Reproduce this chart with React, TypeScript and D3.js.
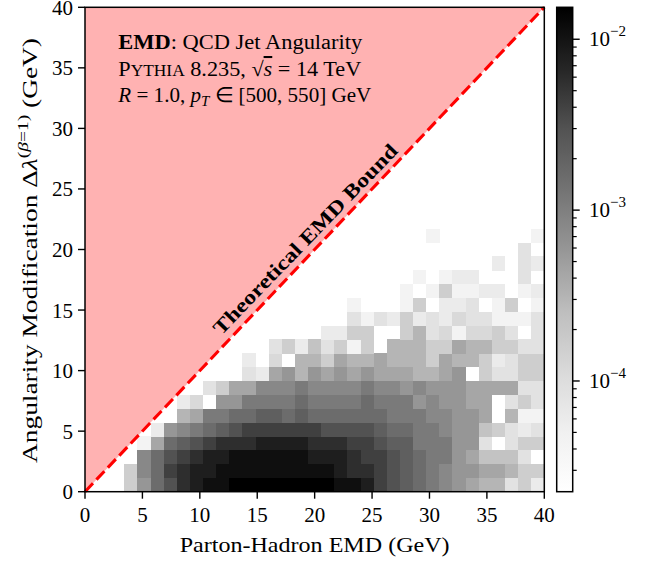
import React from "react";
import * as d3 from "d3";

// ---------- data ----------
const X_TICKS = [0, 5, 10, 15, 20, 25, 30, 35, 40];
const Y_TICKS = [0, 5, 10, 15, 20, 25, 30, 35, 40];
const AXIS_MAX = 40;
const N_BINS = 35;
// colour-bar range (log10 of density)
const LOG_MIN = -4.648;
const LOG_MAX = -1.813;
const CBAR_MAJOR_EXP = [-4, -3, -2];
// matplotlib "Greys" control colours
const GREYS = ["#ffffff", "#f0f0f0", "#d9d9d9", "#bdbdbd", "#969696", "#737373", "#525252", "#252525", "#000000"];
// cell level codes: '.' empty, 'a'..'u' = 0..20 steps along the log colour range
const LEVEL_CHARS = "abcdefghijklmnopqrstu";
const dots = (n: number) => ".".repeat(n);
// rows from bottom (Δλ bin 0) upward, columns = EMD bins 0..34
const HIST_ROWS: string[] = [
  "..." + "gknprstt" + "uuuuuuuu" + "ttsqponmlkjiiegd",
  "..." + "glnqrsst" + "ttttttt" + "tsrrqponmlkkjjigg",
  "...." + "lnpqrss" + "tttttt" + "sssrqqponmmkjhhhe.",
  "...." + "cjnopqrrrssssrrrqqpoommmkke.egg",
  "....." + "dklmnopqqqqqqppppo" + "nnmmlkkhgede",
  ".......ijmmnnoononnnnnnmmmllkkj.icc",
  ".......df.kkmmmmnmmmmnmmmklkkjj.ege",
  ".........egjjlllmllllmllklkkkjjjjee",
  dots(12) + "edjkikjkjkjjjiijk.geegg",
  dots(12) + "d.f.iigjiijiiigjiigdegg",
  dots(14) + "egdhegcg.iiiggjiiggee",
  dots(18) + "ddgg..giefcffge.e",
  dots(20) + "ecedgdedfeeccce",
  dots(20) + "c...cg.dde.cg.c",
  dots(24) + "c.cgccdd.cd",
  dots(25) + "c.cdd...e.",
  dots(31) + "d.ed",
  dots(33) + "e.",
  dots(26) + "c" + dots(7) + "c",
];

// ---------- layout ----------
const W = 652;
const H = 562;
const PL = 85;
const PR = 544.3;
const PT = 7.3;
const PB = 491.7;
const CB_X = 556.7;
const CB_W = 16;
const FONT = "'Liberation Serif', 'Times New Roman', serif";

export default function App() {
  const x = d3.scaleLinear().domain([0, AXIS_MAX]).range([PL, PR]);
  const y = d3.scaleLinear().domain([0, AXIS_MAX]).range([PB, PT]);
  const edges = d3.range(N_BINS + 1).map((k) => (k * AXIS_MAX) / N_BINS);
  const vmin = Math.pow(10, LOG_MIN);
  const vmax = Math.pow(10, LOG_MAX);
  const greys = d3.piecewise(d3.interpolateRgb, GREYS);
  const color = d3.scaleSequentialLog(greys).domain([vmin, vmax]);
  const cbY = d3.scaleLog().domain([vmin, vmax]).range([PB, PT]);

  const cells: { i: number; j: number; v: number }[] = [];
  HIST_ROWS.forEach((row, i) => {
    for (let j = 0; j < row.length; j++) {
      const L = LEVEL_CHARS.indexOf(row[j]);
      if (L < 0) continue;
      const v = Math.pow(10, LOG_MIN + (L / 20) * (LOG_MAX - LOG_MIN));
      cells.push({ i, j, v });
    }
  });

  const minor: number[] = [];
  for (let e = -5; e <= -1; e++) {
    for (let k = 2; k <= 9; k++) {
      const v = k * Math.pow(10, e);
      if (v >= vmin && v <= vmax) minor.push(v);
    }
  }

  const stops = d3.range(0, 1.0001, 0.025);
  const diag = [
    [0, 0],
    [AXIS_MAX, AXIS_MAX],
  ];

  return (
    <svg
      width={W}
      height={H}
      style={{ position: "absolute", left: 0, top: 0, background: "#fff" }}
      fontFamily={FONT}
    >
      <defs>
        <linearGradient id="cbar" x1="0" y1="1" x2="0" y2="0">
          {stops.map((t) => (
            <stop key={t} offset={t} stopColor={greys(t)} />
          ))}
        </linearGradient>
      </defs>
      <rect x={0} y={0} width={W} height={H} fill="#fff" />

      {/* forbidden region */}
      <path
        d={`M${x(0)},${y(0)}L${x(0)},${y(AXIS_MAX)}L${x(AXIS_MAX)},${y(AXIS_MAX)}Z`}
        fill="#ff0000"
        fillOpacity={0.3}
      />

      {/* histogram cells */}
      <g shapeRendering="crispEdges">
        {cells.map((c) => (
          <rect
            key={`${c.i}-${c.j}`}
            x={x(edges[c.j])}
            y={y(edges[c.i + 1])}
            width={x(edges[c.j + 1]) - x(edges[c.j]) + 0.3}
            height={y(edges[c.i]) - y(edges[c.i + 1]) + 0.3}
            fill={color(c.v)}
          />
        ))}
      </g>

      {/* bound line */}
      <line
        x1={x(diag[0][0])}
        y1={y(diag[0][1])}
        x2={x(diag[1][0])}
        y2={y(diag[1][1])}
        stroke="#ff0000"
        strokeWidth={3.1}
        strokeDasharray="11.6,5"
      />
      <text
        transform="translate(305,239) rotate(-46)"
        textAnchor="middle"
        dy="0.35em"
        fontSize={20}
        fontWeight="bold"
        textLength={256}
        lengthAdjust="spacingAndGlyphs"
      >
        Theoretical EMD Bound
      </text>

      {/* text box */}
      <g fontSize={20.5}>
        <text x={118.3} y={49.3} textLength={244} lengthAdjust="spacingAndGlyphs">
          <tspan fontWeight="bold">EMD</tspan>: QCD Jet Angularity
        </text>
        <text x={118.3} y={76} textLength={243} lengthAdjust="spacingAndGlyphs">
          P<tspan fontSize={16}>YTHIA</tspan> 8.235, √
          <tspan fontStyle="italic" textDecoration="overline">s</tspan> = 14 TeV
        </text>
        <text x={118.3} y={101.7} textLength={253} lengthAdjust="spacingAndGlyphs">
          <tspan fontStyle="italic">R</tspan> = 1.0, <tspan fontStyle="italic">p</tspan>
          <tspan fontStyle="italic" fontSize={14.5} dy={4}>T</tspan>
          <tspan dy={-4}> ∈ [500, 550] GeV</tspan>
        </text>
      </g>

      {/* frame */}
      <rect x={PL} y={PT} width={PR - PL} height={PB - PT} fill="none" stroke="#000" strokeWidth={1.5} />

      {/* axes */}
      <g fontSize={21}>
        {X_TICKS.map((t) => (
          <g key={`x${t}`}>
            <line x1={x(t)} x2={x(t)} y1={PB} y2={PB + 7} stroke="#000" strokeWidth={1.4} />
            <text x={x(t)} y={522} textAnchor="middle">
              {t}
            </text>
          </g>
        ))}
        {Y_TICKS.map((t) => (
          <g key={`y${t}`}>
            <line x1={PL - 7} x2={PL} y1={y(t)} y2={y(t)} stroke="#000" strokeWidth={1.4} />
            <text x={73} y={y(t) + 7.5} textAnchor="end">
              {t}
            </text>
          </g>
        ))}
      </g>
      <text x={(PL + PR) / 2} y={552} textAnchor="middle" fontSize={21} textLength={270} lengthAdjust="spacingAndGlyphs">
        Parton-Hadron EMD (GeV)
      </text>
      <text
        transform="translate(37,250.5) rotate(-90)"
        textAnchor="middle"
        fontSize={21}
        textLength={425}
        lengthAdjust="spacingAndGlyphs"
      >
        Angularity Modification Δ<tspan fontStyle="italic">λ</tspan>
        <tspan fontSize={15} dy={-9}>(</tspan>
        <tspan fontSize={15} fontStyle="italic">β</tspan>
        <tspan fontSize={15}>=1)</tspan>
        <tspan dy={9}> (GeV)</tspan>
      </text>

      {/* colour bar */}
      <rect x={CB_X} y={PT} width={CB_W} height={PB - PT} fill="url(#cbar)" />
      <rect x={CB_X} y={PT} width={CB_W} height={PB - PT} fill="none" stroke="#000" strokeWidth={1.5} />
      {minor.map((v) => (
        <line key={`m${v}`} x1={CB_X + CB_W} x2={CB_X + CB_W + 4} y1={cbY(v)} y2={cbY(v)} stroke="#000" strokeWidth={1.2} />
      ))}
      {CBAR_MAJOR_EXP.map((e) => {
        const yy = cbY(Math.pow(10, e));
        return (
          <g key={`M${e}`}>
            <line x1={CB_X + CB_W} x2={CB_X + CB_W + 7} y1={yy} y2={yy} stroke="#000" strokeWidth={1.4} />
            <text x={589} y={yy + 7} fontSize={21}>
              10<tspan fontSize={15} dy={-10}>−{Math.abs(e)}</tspan>
            </text>
          </g>
        );
      })}
    </svg>
  );
}
